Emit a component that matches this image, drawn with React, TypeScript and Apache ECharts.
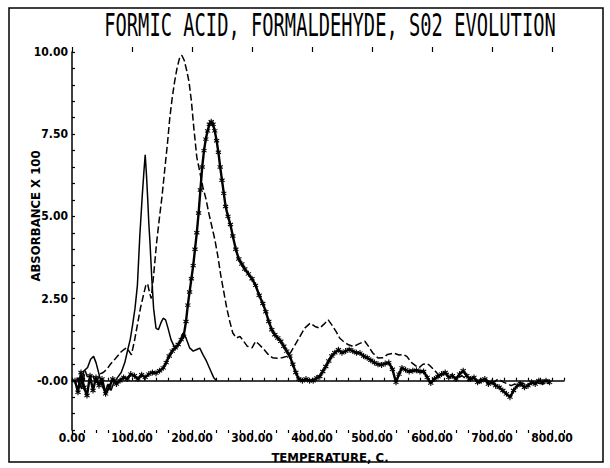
import React, { useEffect, useRef } from "react";
import * as echarts from "echarts";

const TITLE = "FORMIC ACID, FORMALDEHYDE, S02 EVOLUTION";
const X_NAME = "TEMPERATURE, C.";
const Y_NAME = "ABSORBANCE X 100";
const X_MIN = 0;
const X_MAX = 820;
const Y_MIN = -1.5;
const Y_MAX = 10;
const X_LABEL_VALUES = [0, 100, 200, 300, 400, 500, 600, 700, 800];
const Y_LABEL_VALUES = [0, 2.5, 5, 7.5, 10];

// Solid thin curve
const solidT = [8, 14, 20, 26, 31, 36, 40, 45, 50, 55, 60, 65, 70, 76, 82, 88, 93, 97, 101, 105, 109, 113, 117, 120, 122, 124, 126, 128, 130, 133, 136, 140, 144, 148, 152, 156, 160, 165, 170, 174, 180, 185, 190, 196, 202, 208, 213, 218, 224, 230, 236, 241];
const solidV = [0.1, -0.2, 0.3, 0.4, 0.65, 0.74, 0.55, 0.2, -0.15, -0.35, -0.1, -0.3, -0.05, 0.1, 0.25, 0.55, 0.95, 1.25, 1.7, 2.2, 2.9, 4.4, 5.6, 6.4, 6.87, 6.3, 5.6, 4.8, 4.2, 3.1, 2.2, 1.6, 1.55, 1.75, 1.9, 1.85, 1.6, 1.25, 1.05, 1.0, 1.2, 1.45, 1.3, 1.0, 0.9, 0.95, 0.99, 0.8, 0.6, 0.35, 0.1, 0.0];

// Dashed curve
const dashT = [10, 16, 22, 28, 34, 40, 46, 52, 58, 64, 70, 76, 82, 87, 91, 95, 99, 104, 109, 114, 119, 123, 126, 129, 132, 136, 141, 146, 150, 155, 159, 163, 167, 171, 175, 179, 183, 187, 191, 195, 199, 203, 208, 213, 218, 223, 228, 233, 238, 243, 248, 253, 258, 263, 268, 274, 280, 286, 292, 300, 306, 312, 320, 327, 334, 342, 350, 358, 364, 372, 380, 388, 397, 405, 413, 420, 427, 433, 440, 446, 452, 460, 469, 478, 488, 494, 501, 510, 518, 526, 536, 545, 552, 558, 566, 573, 578, 585, 592, 597, 605, 613, 620, 630, 640, 650, 660, 670, 680, 690, 700, 710, 720, 732, 745, 758, 770, 785, 795];
const dashV = [0.1, -0.25, 0.3, 0.0, 0.2, -0.1, 0.2, 0.25, 0.35, 0.5, 0.62, 0.75, 0.88, 0.95, 1.0, 0.9, 0.79, 1.2, 1.7, 2.2, 2.6, 2.9, 2.95, 2.7, 2.5, 3.2, 4.2, 5.0, 5.6, 6.5, 7.2, 8.0, 8.6, 9.1, 9.5, 9.8, 9.9, 9.75, 9.45, 9.1, 8.5, 7.7, 6.8, 6.35, 5.9, 5.55, 5.1, 4.7, 4.3, 3.8, 3.2, 2.7, 2.2, 1.8, 1.45, 1.3, 1.35, 1.2, 1.05, 1.0, 1.2, 1.1, 0.95, 0.8, 0.7, 0.68, 0.7, 0.74, 0.85, 1.1, 1.35, 1.6, 1.75, 1.65, 1.6, 1.72, 1.85, 1.7, 1.5, 1.3, 1.2, 1.1, 1.04, 1.12, 1.2, 1.05, 0.85, 0.69, 0.7, 0.8, 0.84, 0.78, 0.8, 0.74, 0.55, 0.45, 0.39, 0.5, 0.52, 0.45, 0.3, 0.13, 0.2, 0.23, 0.05, 0.15, 0.0, 0.08, -0.05, 0.05, -0.1, 0.05, -0.05, -0.15, -0.05, -0.12, -0.05, -0.1, -0.08];

// Starred thick curve
const starT = [5, 10, 15, 20, 25, 30, 35, 40, 45, 50, 56, 62, 68, 74, 80, 86, 92, 98, 104, 110, 116, 122, 128, 134, 140, 146, 152, 157, 162, 167, 172, 177, 182, 186, 190, 193, 196, 199, 202, 205, 208, 211, 214, 217, 220, 223, 226, 229, 232, 235, 238, 241, 244, 247, 250, 253, 256, 260, 264, 268, 273, 278, 283, 288, 294, 300, 306, 312, 318, 323, 328, 333, 338, 343, 348, 353, 358, 363, 368, 373, 378, 384, 390, 396, 402, 408, 413, 418, 423, 428, 433, 438, 444, 450, 456, 462, 468, 474, 480, 486, 492, 498, 504, 510, 516, 522, 528, 534, 540, 545, 550, 556, 562, 568, 574, 580, 586, 592, 598, 604, 610, 616, 622, 628, 634, 640, 646, 652, 658, 664, 670, 676, 682, 688, 694, 700, 706, 712, 718, 724, 730, 736, 742, 748, 754, 760, 766, 772, 778, 784, 790, 796];
const starV = [0, -0.35, 0.25, -0.2, -0.45, 0.15, -0.3, 0.1, -0.15, 0.05, -0.4, -0.2, 0.05, -0.1, 0.0, 0.1, 0.05, 0.2, 0.15, 0.05, 0.18, 0.1, 0.2, 0.25, 0.23, 0.3, 0.39, 0.55, 0.75, 0.9, 1.0, 1.1, 1.25, 1.35, 1.8, 2.3, 2.7, 3.1, 3.5, 4.0, 4.5, 5.1, 5.8, 6.5, 7.0, 7.35, 7.6, 7.8, 7.88, 7.8, 7.6, 7.3, 6.95, 6.5, 6.1, 5.7, 5.3, 5.0, 4.75, 4.4, 4.0, 3.7, 3.55, 3.4, 3.25, 3.1, 2.9, 2.6, 2.35, 2.1, 1.8, 1.55, 1.4, 1.3, 1.2, 1.05, 0.9, 0.75, 0.5, 0.25, 0.05, 0.0, 0.05, 0.0, 0.0, 0.08, 0.13, 0.28, 0.43, 0.6, 0.75, 0.85, 0.94, 0.85, 0.9, 0.95, 0.9, 0.85, 0.84, 0.75, 0.7, 0.62, 0.55, 0.5, 0.48, 0.52, 0.55, 0.35, -0.05, 0.2, 0.39, 0.33, 0.28, 0.3, 0.32, 0.28, 0.28, 0.1, -0.07, 0.05, 0.13, 0.2, 0.25, 0.1, 0.15, 0.05, 0.2, 0.3, 0.15, 0.05, 0.1, -0.05, 0.0, 0.05, -0.1, -0.05, -0.15, -0.2, -0.3, -0.4, -0.5, -0.3, -0.15, -0.1, -0.2, -0.15, -0.05, -0.1, 0.0, -0.05, 0.0, -0.05];

const STAR_SYMBOL =
  "path://M-0.8,-4.5L0.8,-4.5L0.8,4.5L-0.8,4.5Z M3.5,2.94L-4.3,-1.56L-3.5,-2.94L4.3,1.56Z M4.3,-1.56L-3.5,2.94L-4.3,1.56L3.5,-2.94Z";

const LABEL_FONT = "'Liberation Sans Narrow', 'DejaVu Sans Condensed', sans-serif";

function pairs(t: number[], v: number[]) {
  return t.map((x, i) => [x, v[i]]);
}

export default function App() {
  const ref = useRef<HTMLDivElement>(null);
  useEffect(() => {
    document.body.style.margin = "0";
    if (!ref.current) return;
    const chart = echarts.init(ref.current, null, { renderer: "svg" });
    const tickAxisBase = {
      type: "value",
      min: X_MIN,
      max: X_MAX,
      axisLine: { onZero: true, show: false, lineStyle: { color: "#000", width: 1.5 } },
      axisLabel: { show: false },
      splitLine: { show: false },
    };
    chart.setOption({
      animation: false,
      backgroundColor: "#fff",
      grid: { left: 72, right: 46, top: 52, bottom: 38 },
      graphic: [
        {
          type: "rect",
          shape: { x: 9, y: 8, width: 594, height: 454 },
          style: { fill: "none", stroke: "#000", lineWidth: 1.5 },
          silent: true,
        },
        {
          type: "text",
          x: 330,
          y: 24,
          scaleX: 0.625,
          scaleY: 1.08,
          style: {
            text: TITLE,
            fontFamily: "'DejaVu Sans Mono', monospace",
            fontSize: 30,
            fill: "#000",
            textAlign: "center",
            textVerticalAlign: "middle",
          },
        },
        {
          type: "text",
          x: 35,
          y: 216,
          rotation: Math.PI / 2,
          style: {
            text: Y_NAME,
            fontFamily: LABEL_FONT,
            fontWeight: "bold",
            fontSize: 13,
            fill: "#000",
            textAlign: "center",
            textVerticalAlign: "middle",
          },
        },
        {
          type: "text",
          x: 330,
          y: 457,
          style: {
            text: X_NAME,
            fontFamily: LABEL_FONT,
            fontWeight: "bold",
            fontSize: 13,
            fill: "#000",
            textAlign: "center",
            textVerticalAlign: "middle",
          },
        },
      ],
      xAxis: [
        {
          type: "value",
          position: "bottom",
          min: X_MIN,
          max: X_MAX,
          interval: 100,
          axisLine: { onZero: false, show: false },
          axisTick: { show: false },
          splitLine: { show: false },
          axisLabel: {
            margin: 2,
            color: "#000",
            fontFamily: LABEL_FONT,
            fontWeight: "bold",
            fontSize: 12,
            formatter: (v: number) => (X_LABEL_VALUES.indexOf(v) >= 0 ? v.toFixed(2) : ""),
          },
        },
        {
          ...tickAxisBase,
          position: "top",
          interval: 20,
          axisLine: { onZero: true, show: true, lineStyle: { color: "#000", width: 1.5 } },
          axisTick: { show: true, length: 3, lineStyle: { color: "#000", width: 1.2 } },
        },
        {
          ...tickAxisBase,
          position: "bottom",
          interval: 20,
          axisTick: { show: true, length: 3, lineStyle: { color: "#000", width: 1.2 } },
        },
        {
          ...tickAxisBase,
          position: "top",
          interval: 100,
          axisTick: { show: true, length: 5, customValues: X_LABEL_VALUES, lineStyle: { color: "#000", width: 1.2 } },
        },
        {
          ...tickAxisBase,
          position: "bottom",
          interval: 100,
          axisTick: { show: true, length: 5, customValues: X_LABEL_VALUES, lineStyle: { color: "#000", width: 1.2 } },
        },
      ],
      yAxis: {
        type: "value",
        min: Y_MIN,
        max: Y_MAX,
        interval: 0.5,
        axisLine: { show: true, onZero: false, lineStyle: { color: "#000", width: 1.5 } },
        axisTick: { show: true, inside: true, length: 3, lineStyle: { color: "#000", width: 1.2 } },
        splitLine: { show: false },
        axisLabel: {
          margin: 4,
          color: "#000",
          fontFamily: LABEL_FONT,
          fontWeight: "bold",
          fontSize: 12,
          formatter: (v: number) =>
            Y_LABEL_VALUES.indexOf(v) >= 0 ? (v === 0 ? "-0.00" : v.toFixed(2)) : "",
        },
      },
      series: [
        {
          type: "line",
          xAxisIndex: 0,
          data: pairs(solidT, solidV),
          symbol: "none",
          lineStyle: { color: "#000", width: 1.5 },
        },
        {
          type: "line",
          xAxisIndex: 0,
          data: pairs(dashT, dashV),
          symbol: "none",
          lineStyle: { color: "#000", width: 1.5, type: [7, 3] },
        },
        {
          type: "line",
          xAxisIndex: 0,
          data: pairs(starT, starV),
          symbol: STAR_SYMBOL,
          symbolSize: 6,
          symbolKeepAspect: true,
          itemStyle: { color: "#000" },
          lineStyle: { color: "#000", width: 2.4 },
        },
      ],
    });
    return () => chart.dispose();
  }, []);
  return <div ref={ref} style={{ width: 610, height: 468 }} />;
}
